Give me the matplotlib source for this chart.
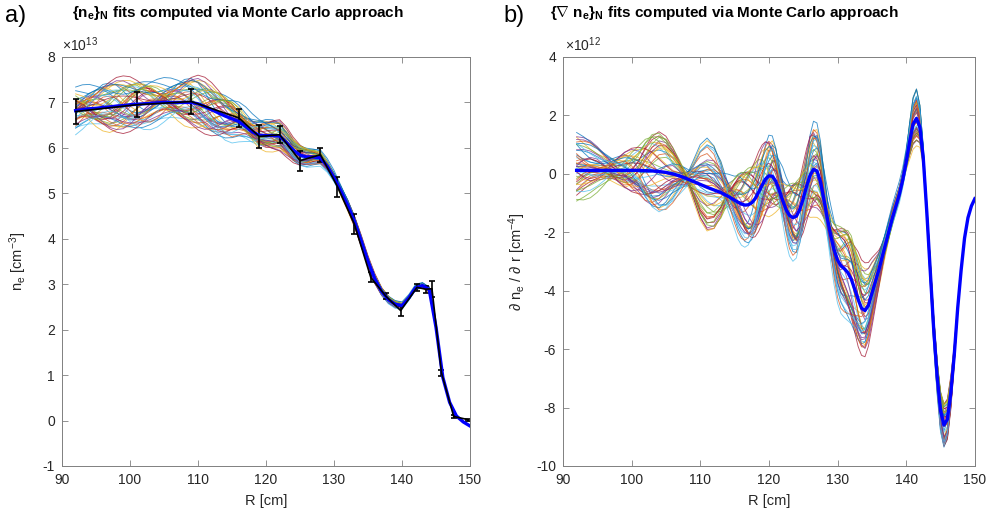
import numpy as np
import matplotlib
matplotlib.use('Agg')
import matplotlib.pyplot as plt

plt.rcParams['font.family'] = ['Liberation Sans', 'DejaVu Sans']
plt.rcParams['mathtext.fontset'] = 'custom'
plt.rcParams['mathtext.rm'] = 'Liberation Sans'
plt.rcParams['mathtext.it'] = 'Liberation Sans'
plt.rcParams['mathtext.bf'] = 'Liberation Sans:bold'
plt.rcParams['axes.unicode_minus'] = False

# ---- panel a: density profile (units of 1e13 cm^-3) ----
R_A = np.arange(92, 151)  # 1 cm sampling
NE_MEAN = [6.82, 6.84, 6.86, 6.87, 6.89, 6.90, 6.92, 6.93, 6.95, 6.96,
           6.97, 6.98, 6.99, 7.00, 7.00, 7.00, 7.00, 7.00, 6.97, 6.91,
           6.84, 6.77, 6.70, 6.64, 6.58, 6.47, 6.35, 6.28, 6.27, 6.27,
           6.26, 6.12, 5.95, 5.84, 5.80, 5.80, 5.78, 5.60, 5.35, 5.05,
           4.74, 4.38, 3.95, 3.50, 3.12, 2.84, 2.66, 2.56, 2.53, 2.70,
           2.92, 2.97, 2.88, 2.05, 0.95, 0.40, 0.10, -0.03, -0.12]

# measured points with error bars
R_PTS = [92, 101, 109, 116, 119, 122, 125, 128, 130.5, 133, 135.4, 137.6,
         139.8, 142.2, 143.5, 144.4, 145.8, 147.6, 149.7]
NE_PTS = [6.80, 6.95, 7.02, 6.66, 6.25, 6.29, 5.72, 5.85, 5.15, 4.32, 3.15,
          2.74, 2.42, 2.93, 2.89, 2.90, 1.05, 0.09, 0.02]
NE_ERR = [0.28, 0.27, 0.28, 0.20, 0.25, 0.19, 0.22, 0.15, 0.22, 0.22, 0.11,
          0.07, 0.11, 0.07, 0.08, 0.18, 0.07, 0.04, 0.02]

# typical Monte Carlo deviation patterns read from the spread of the bundle
A_OFFSET = [0.42] * 19 + [0.41, 0.4, 0.39, 0.38, 0.36, 0.34, 0.32, 0.3, 0.28, 0.26,
                          0.24, 0.22, 0.2, 0.18, 0.17, 0.16, 0.15, 0.14, 0.13, 0.12,
                          0.11, 0.1, 0.09, 0.09, 0.08, 0.08, 0.07, 0.07, 0.07, 0.07,
                          0.06, 0.06, 0.06, 0.05, 0.04, 0.03, 0.02, 0.01, 0.005, 0.0]
A_WIG1 = [0, 0.15, 0.26, 0.3, 0.26, 0.15, 0, -0.15, -0.26, -0.3,
          -0.26, -0.15, 0, 0.15, 0.26, 0.3, 0.26, 0.15, 0, -0.15,
          -0.26, -0.3, -0.26, -0.15, 0, 0.14, 0.22, 0.25, 0.2, 0.11,
          0, -0.09, -0.14, -0.15, -0.12, -0.06, 0, 0.04, 0.07, 0.07,
          0.06, 0.03, 0, -0.03, -0.04, -0.05, -0.04, -0.02, 0, 0.02,
          0.04, 0.04, 0.03, 0.02, 0, 0, 0, 0, 0]
A_WIG2 = [0.3, 0.26, 0.15, 0, -0.15, -0.26, -0.3, -0.26, -0.15, 0,
          0.15, 0.26, 0.3, 0.26, 0.15, 0, -0.15, -0.26, -0.3, -0.26,
          -0.15, 0, 0.15, 0.26, 0.27, 0.22, 0.12, 0, -0.11, -0.18,
          -0.2, -0.16, -0.08, 0, 0.06, 0.1, 0.11, 0.08, 0.05, 0,
          -0.04, -0.06, -0.06, -0.05, -0.03, 0, 0.02, 0.04, 0.04, 0.03,
          0.02, 0, -0.02, -0.02, -0.01, 0, 0, 0, 0]

# ---- panel b: gradient profile (units of 1e12 cm^-4) ----
# 1 cm sampling up to 115, 0.5 cm after
R_B = np.r_[np.arange(92, 116), np.arange(115.5, 150.01, 0.5)]
GRAD_MEAN = [0.12, 0.12, 0.12, 0.12, 0.12, 0.12, 0.12, 0.12, 0.12, 0.12,
             0.11, 0.10, 0.08, 0.05, 0.0, -0.07, -0.16, -0.26, -0.36, -0.46,
             -0.55, -0.64, -0.76, -0.9,
             -0.97, -1.03, -1.07, -1.06, -0.99, -0.85, -0.63, -0.4, -0.18, -0.07,
             -0.08, -0.25, -0.55, -0.9, -1.22, -1.42, -1.5, -1.45, -1.22, -0.85,
             -0.42, -0.05, 0.15, 0.1, -0.25, -0.85, -1.5, -2.1, -2.6, -2.95,
             -3.15, -3.25, -3.38, -3.6, -3.95, -4.3, -4.6, -4.68, -4.5, -4.1,
             -3.7, -3.3, -2.85, -2.4, -1.95, -1.5, -1.1, -0.7,
             -0.2, 0.4, 1.1, 1.7, 1.9, 1.6, 0.5, -1.3, -3.3, -5.3,
             -6.9, -8.1, -8.6, -8.4, -7.5, -6.2, -4.6, -3.3, -2.2, -1.5,
             -1.1, -0.85]
B_WIG1 = [1.2, 1.1, 0.95, 0.75, 0.55, 0.35, 0.15, 0.0, -0.3, -0.6,
          -1.0, -1.25, -1.25, -1.0, -0.6, -0.25, 0.05, 0.45, 0.95, 1.25,
          1.25, 0.95, 0.4, -0.1,
          -0.35, -0.6, -0.85, -1.0, -1.02, -0.9, -0.65, -0.3, 0.1, 0.5,
          0.8, 0.9, 0.75, 0.5, 0.1, -0.3, -0.7, -0.9, -0.85, -0.6,
          -0.15, 0.3, 0.7, 0.9, 0.95, 0.8, 0.5, 0.2, -0.15, -0.5,
          -0.8, -1.0, -1.15, -1.2, -1.12, -1.0, -0.85, -0.7, -0.5, -0.3,
          -0.1, 0.1, 0.22, 0.3, 0.32, 0.3, 0.25, 0.2,
          0.2, 0.3, 0.5, 0.7, 0.8, 0.6, 0.3, 0.0, -0.2, -0.3,
          -0.4, -0.5, -0.6, -0.5, -0.35, -0.2, -0.1, -0.05, 0, 0,
          0, 0]
B_WIG2 = [0.2, 0.4, 0.5, 0.45, 0.25, 0.0, -0.25, -0.45, -0.5, -0.4,
          -0.15, 0.15, 0.45, 0.6, 0.6, 0.4, 0.1, -0.3, -0.6, -0.7,
          -0.5, -0.1, 0.4, 0.7,
          0.75, 0.7, 0.52, 0.3, 0.0, -0.3, -0.6, -0.8, -0.85, -0.8,
          -0.55, -0.2, 0.2, 0.6, 0.82, 0.9, 0.75, 0.5, 0.1, -0.3,
          -0.65, -0.9, -0.88, -0.7, -0.38, 0.0, 0.32, 0.6, 0.8, 0.9,
          0.85, 0.7, 0.48, 0.2, -0.1, -0.4, -0.58, -0.7, -0.7, -0.6,
          -0.45, -0.3, -0.15, 0.0, 0.1, 0.2, 0.24, 0.25,
          0.2, 0.1, -0.1, -0.2, -0.2, -0.1, 0.1, 0.25, 0.3, 0.3,
          0.2, 0.1, 0.0, -0.1, -0.15, -0.1, -0.05, 0, 0, 0,
          0, 0]
B_OFFSET = [0.5, 0.45, 0.4, 0.35, 0.3, 0.3, 0.3, 0.3, 0.3, 0.3,
            0.3, 0.3, 0.3, 0.3, 0.3, 0.3, 0.3, 0.3, 0.35, 0.4,
            0.4, 0.45, 0.5, 0.6,
            0.75, 0.82, 0.85, 0.85, 0.82, 0.78, 0.74, 0.72, 0.72, 0.72,
            0.72, 0.72, 0.74, 0.78, 0.8, 0.82, 0.82, 0.82, 0.8, 0.78,
            0.78, 0.8, 0.82, 0.85, 0.85, 0.82, 0.8, 0.78, 0.76, 0.8,
            0.85, 0.9, 0.95, 1.0, 1.0, 1.0, 0.95, 0.9, 0.8, 0.7,
            0.6, 0.5, 0.42, 0.35, 0.32, 0.3, 0.3, 0.3,
            0.3, 0.35, 0.45, 0.55, 0.6, 0.5, 0.35, 0.25, 0.25, 0.3,
            0.4, 0.5, 0.5, 0.45, 0.35, 0.2, 0.1, 0.05, 0.02, 0.0,
            0, 0]

# weights of each Monte Carlo realisation on the deviation patterns
W_OFF = [0.9, -0.7, 0.3, -0.2, 0.6, -0.95, 0.1, 0.45, -0.5, 0.8,
         -0.1, -0.35, 0.7, 0.2, -0.85, 0.55, -0.6, 0.05, 0.35, -0.45,
         1.0, -0.25, 0.15, -0.75, 0.65, -0.05, 0.4, -0.9, 0.25, -0.4,
         0.75, -0.15, 0.5, -0.65, 0.0, 0.85, -0.3, 0.6, -0.55, 0.1,
         -0.8, 0.3, 0.95, -0.2, 0.45, -0.7, 0.2, -0.1]
W_W1 = [-0.3, 0.5, 0.9, -0.6, -0.1, 0.2, -0.85, 0.7, 0.4, -0.4,
        0.95, -0.2, 0.1, -0.75, 0.55, 0.3, -0.5, 0.8, -0.9, 0.05,
        -0.35, 0.65, -0.55, 0.25, -0.15, 0.75, -0.7, 0.45, 1.0, -0.25,
        0.0, 0.6, -0.8, 0.35, -0.45, 0.15, 0.85, -0.65, 0.2, -0.95,
        0.5, -0.05, 0.3, 0.7, -0.3, 0.4, -0.6, 0.9]
W_W2 = [0.2, 0.4, -0.5, 0.8, -0.3, 0.1, 0.6, -0.9, 0.0, -0.6,
        0.3, 0.7, -0.2, 0.5, -0.1, -0.8, 0.9, 0.35, -0.45, 0.25,
        -0.7, 0.15, 0.55, 0.45, -0.95, 0.05, -0.35, 0.65, -0.15, 0.85,
        -0.55, 0.3, 0.1, -0.25, 0.75, -0.4, 0.5, -0.05, 0.95, 0.2,
        -0.65, -0.3, 0.4, -0.85, 0.6, 0.0, 0.8, -0.5]

# matlab default line colours
COLORS = ['#0072bd', '#d95319', '#edb120', '#7e2f8e', '#77ac30', '#4dbeee', '#a2142f']
GRID_C = '#808080'
TXT_C = '#262626'


def style(ax, ylim, yticks):
    ax.set_xlim(90, 150)
    ax.set_ylim(*ylim)
    ax.set_xticks(range(90, 151, 10))
    ax.set_yticks(yticks)
    ax.tick_params(direction='in', top=True, right=True, length=4, width=0.6,
                   color=GRID_C, labelcolor=TXT_C, labelsize=10, pad=5)
    for s in ax.spines.values():
        s.set_color(GRID_C)
        s.set_linewidth(0.7)
    ax.set_xlabel('R [cm]', fontsize=10.5, color=TXT_C, labelpad=5)


fig = plt.figure(figsize=(9.91, 5.21), dpi=100)
ax_a = fig.add_axes([0.0626, 0.1056, 0.4117, 0.785])
ax_b = fig.add_axes([0.568, 0.1056, 0.4157, 0.785])

# panel a
ne_mean = np.array(NE_MEAN)
dev_a = (np.outer(W_OFF, A_OFFSET) + np.outer(W_W1, A_WIG1)
         + np.outer(W_W2, A_WIG2))
for k, d in enumerate(dev_a):
    ax_a.plot(R_A, ne_mean + d, color=COLORS[k % 7], lw=0.65, alpha=0.75)
ax_a.errorbar(R_PTS, NE_PTS, yerr=NE_ERR, color='k', lw=1.2,
              capsize=2.5, capthick=1.2)
ax_a.plot(R_A, ne_mean, color='b', lw=2.4)
style(ax_a, (-1, 8), range(-1, 9))
ax_a.set_ylabel(r'n$_\mathrm{e}$ [cm$^{-3}$]', fontsize=10.5, color=TXT_C, labelpad=10)

# panel b
grad_mean = np.array(GRAD_MEAN)
dev_b = (np.outer(W_OFF, B_OFFSET) + np.outer(W_W1, B_WIG1)
         + np.outer(W_W2, B_WIG2))
for k, d in enumerate(dev_b):
    ax_b.plot(R_B, grad_mean + d, color=COLORS[k % 7], lw=0.65, alpha=0.75)
ax_b.plot(R_B, grad_mean, color='b', lw=2.4)
style(ax_b, (-10, 4), range(-10, 5, 2))
ax_b.set_ylabel(r'$\partial$ n$_\mathrm{e}$ / $\partial$ r [cm$^{-4}$]',
                fontsize=10.5, color=TXT_C, labelpad=6)

# exponent labels
fig.text(0.0626, 0.902, r'$\times10^{13}$', fontsize=10, color=TXT_C)
fig.text(0.570, 0.902, r'$\times10^{12}$', fontsize=10, color=TXT_C)

# panel letters and titles
fig.text(0.005, 0.958, 'a)', fontsize=17)
fig.text(0.508, 0.958, 'b)', fontsize=17)
fig.text(0.0727, 0.968, r'$\mathbf{\{n_{e}\}_{N}}$ fits computed via Monte Carlo approach',
         fontsize=11, fontweight='bold')
fig.text(0.555, 0.968, r'$\mathbf{\{\nabla\ n_{e}\}_{N}}$ fits computed via Monte Carlo approach',
         fontsize=11, fontweight='bold')

fig.savefig('out.png', dpi=100)
